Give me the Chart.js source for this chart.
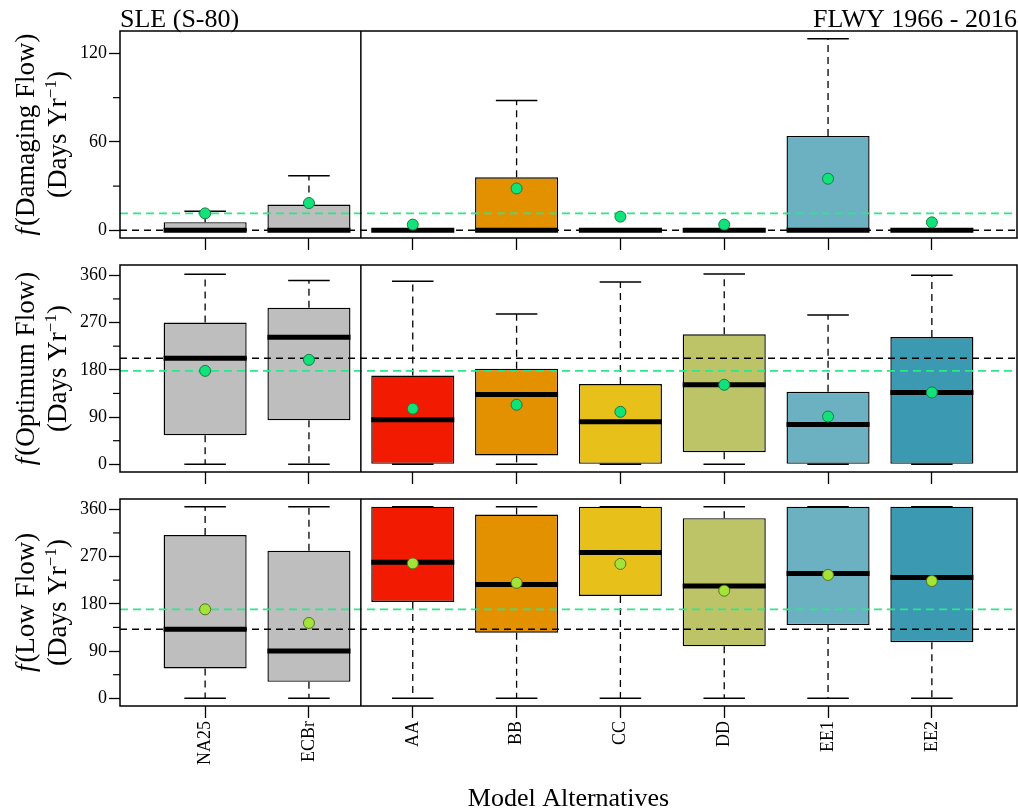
<!DOCTYPE html>
<html lang="en">
<head>
<meta charset="UTF-8">
<script src="https://cdn.jsdelivr.net/npm/chart.js"></script>
<style>
    body { margin: 0; background: #fff; }
    #wrap { position: relative; width: 1018px; height: 810px; }
    #wrap canvas { position: absolute; left: 0; top: 0; }
</style>
<title>SLE (S-80) flow frequency</title>
</head>
<body>
<div id="wrap">
    <canvas id="c1" width="1018" height="810"></canvas>
    <canvas id="c2" width="1018" height="810"></canvas>
    <canvas id="c3" width="1018" height="810"></canvas>
</div>
<script>
const alternatives = ['NA25', 'ECBr', 'AA', 'BB', 'CC', 'DD', 'EE1', 'EE2'];
const boxColors = ['#BEBEBE', '#BEBEBE', '#F21A00', '#E49100', '#E7C019', '#BDC468', '#6CB1C1', '#3B9AB2'];

// damaging flow (days / yr)
const dmgMin  = [0, 0, 0, 0, 0, 0, 0, 0];
const dmgQ1   = [0, 0, 0, 0, 0, 0, 0, 0];
const dmgMed  = [0, 0, 0, 0, 0, 0, 0, 0];
const dmgQ3   = [5.5, 17.5, 0, 36, 0, 0, 64, 0];
const dmgMax  = [13, 37, 0, 88, 0, 0, 130, 0];
const dmgMean = [11.5, 18.5, 3.9, 28.4, 9.3, 3.9, 35, 5.4];

// optimum flow
const optMin  = [0, 0, 0, 0, 0, 0, 0, 0];
const optQ1   = [55.5, 84, 0, 17, 0, 23, 0, 0];
const optMed  = [202, 242, 85, 133, 81, 151.5, 76, 137];
const optQ3   = [270, 298, 169, 182, 153, 247.5, 138, 242.5];
const optMax  = [362, 350, 348.5, 286.5, 347, 362.5, 284.5, 360];
const optMean = [178, 199, 106, 113.5, 100, 151.5, 91, 137];

// low flow
const lowMin  = [0, 0, 0, 0, 0, 0, 0, 0];
const lowQ1   = [57, 31.5, 183.5, 125, 195, 99, 139.5, 107];
const lowMed  = [131.5, 90, 259, 217, 277.5, 214, 237.5, 230];
const lowQ3   = [311, 281, 365, 350, 365, 343, 365, 365];
const lowMax  = [365, 365, 365, 365, 365, 365, 365, 365];
const lowMean = [169.5, 143.5, 257, 220, 256, 205, 235, 223.5];

const dmgTicks = [0, 60, 120];
const dmgMinor = [30, 90];
const flowTicks = [0, 90, 180, 270, 360];
const flowMinor = [45, 135, 225, 315];

const SERIF = 'Liberation Serif';
const X_MIN = -0.82, X_MAX = 7.82;
const PANEL_H = 207;
const XAXIS_H = 80;

let panels = [
    { canvas: 'c1', top: 31, name: 'Damaging Flow', min: dmgMin, q1: dmgQ1, med: dmgMed, q3: dmgQ3, max: dmgMax, mean: dmgMean,
      yMin: -5.2, yMax: 135.2, ticks: dmgTicks, minor: dmgMinor, meanFill: '#12E27A', meanEdge: '#1B7A44', labels: false },
    { canvas: 'c2', top: 265, name: 'Optimum Flow', min: optMin, q1: optQ1, med: optMed, q3: optQ3, max: optMax, mean: optMean,
      yMin: -14.6, yMax: 379.6, ticks: flowTicks, minor: flowMinor, meanFill: '#12E27A', meanEdge: '#1B7A44', labels: false },
    { canvas: 'c3', top: 499, name: 'Low Flow', min: lowMin, q1: lowQ1, med: lowMed, q3: lowQ3, max: lowMax, mean: lowMean,
      yMin: -14.6, yMax: 379.6, ticks: flowTicks, minor: flowMinor, meanFill: '#A4E43A', meanEdge: '#56751C', labels: true }
];

// rotated two line y title, italic f in front
function drawYTitle(ctx, name, cy) {
    ctx.save();
    ctx.fillStyle = '#000';
    ctx.textBaseline = 'alphabetic';
    ctx.textAlign = 'left';

    ctx.translate(34, cy);
    ctx.rotate(-Math.PI / 2);
    ctx.font = 'italic 27px ' + SERIF;
    let fw = ctx.measureText('f').width + 2;
    ctx.font = '27px ' + SERIF;
    let rest = '(' + name + ')';
    let total = fw + ctx.measureText(rest).width;
    ctx.font = 'italic 27px ' + SERIF;
    ctx.fillText('f', -total / 2, 0);
    ctx.font = '27px ' + SERIF;
    ctx.fillText(rest, -total / 2 + fw, 0);
    ctx.restore();

    ctx.save();
    ctx.fillStyle = '#000';
    ctx.translate(66, cy);
    ctx.rotate(-Math.PI / 2);
    ctx.font = '27px ' + SERIF;
    let a = '(Days Yr';
    let aw = ctx.measureText(a).width;
    ctx.font = '17px ' + SERIF;
    let sw = ctx.measureText('\u22121').width;
    ctx.font = '27px ' + SERIF;
    let cw = ctx.measureText(')').width;
    let x0 = -(aw + sw + cw) / 2;
    ctx.fillText(a, x0, 0);
    ctx.font = '17px ' + SERIF;
    ctx.fillText('\u22121', x0 + aw, -10);
    ctx.font = '27px ' + SERIF;
    ctx.fillText(')', x0 + aw + sw, 0);
    ctx.restore();
}

function boxPlugin(p, idx) {
    return {
        id: 'boxparts' + idx,
        // whiskers, staples and medians go right after the boxes
        afterDatasetDraw(chart, args) {
            if (args.index !== 0) return;
            const ctx = chart.ctx, xs = chart.scales.x, ys = chart.scales.y;
            ctx.save();
            ctx.strokeStyle = '#000';
            for (let i = 0; i < alternatives.length; i++) {
                let cx = xs.getPixelForValue(i);
                ctx.lineWidth = 1.3;
                ctx.setLineDash([7, 5]);
                [[p.q3[i], p.max[i]], [p.q1[i], p.min[i]]].forEach(function (w) {
                    if (w[0] === w[1]) return;
                    ctx.beginPath();
                    ctx.moveTo(cx, ys.getPixelForValue(w[0]));
                    ctx.lineTo(cx, ys.getPixelForValue(w[1]));
                    ctx.stroke();
                });
                ctx.setLineDash([]);
                ctx.lineWidth = 1.5;
                [p.max[i], p.min[i]].forEach(function (v) {
                    let y = ys.getPixelForValue(v);
                    ctx.beginPath();
                    ctx.moveTo(xs.getPixelForValue(i - 0.2), y);
                    ctx.lineTo(xs.getPixelForValue(i + 0.2), y);
                    ctx.stroke();
                });
                let ym = ys.getPixelForValue(p.med[i]);
                ctx.lineWidth = 5;
                ctx.beginPath();
                ctx.moveTo(xs.getPixelForValue(i - 0.4), ym);
                ctx.lineTo(xs.getPixelForValue(i + 0.4), ym);
                ctx.stroke();
            }
            ctx.restore();
        },
        afterDraw(chart) {
            const ctx = chart.ctx, xs = chart.scales.x, ys = chart.scales.y;
            const area = chart.chartArea;
            ctx.save();
            ctx.strokeStyle = '#000';
            ctx.lineWidth = 1.5;
            ctx.strokeRect(area.left, area.top, area.right - area.left, area.bottom - area.top);
            // base vs. alternatives separator
            let xd = xs.getPixelForValue(1.5);
            ctx.beginPath();
            ctx.moveTo(xd, area.top);
            ctx.lineTo(xd, area.bottom);
            ctx.stroke();
            // short unlabeled ticks
            ctx.lineWidth = 1.2;
            p.minor.forEach(function (v) {
                let y = ys.getPixelForValue(v);
                ctx.beginPath();
                ctx.moveTo(area.left - 7, y);
                ctx.lineTo(area.left, y);
                ctx.stroke();
            });
            ctx.restore();

            drawYTitle(ctx, p.name, (area.top + area.bottom) / 2);

            ctx.save();
            ctx.fillStyle = '#000';
            ctx.font = '26px ' + SERIF;
            if (idx === 0) {
                ctx.textAlign = 'left';
                ctx.fillText('SLE (S-80)', area.left, 27);
                ctx.textAlign = 'right';
                ctx.fillText('FLWY 1966 - 2016', area.right, 27);
            }
            if (p.labels) {
                ctx.textAlign = 'center';
                ctx.fillText('Model Alternatives', (area.left + area.right) / 2, 806);
            }
            ctx.restore();
        }
    };
}

function noPad(s) {
    s.paddingLeft = 0; s.paddingRight = 0; s.paddingTop = 0; s.paddingBottom = 0;
}

panels.forEach(function (p, idx) {
    let boxes = alternatives.map(function (a, i) { return { x: i, y: [p.q1[i], p.q3[i]] }; });
    let means = alternatives.map(function (a, i) { return { x: i, y: p.mean[i] }; });
    // dashed reference lines at the NA25 median and mean
    let medLine = [{ x: X_MIN, y: p.med[0] }, { x: X_MAX, y: p.med[0] }];
    let meanLine = [{ x: X_MIN, y: p.mean[0] }, { x: X_MAX, y: p.mean[0] }];

    new Chart(document.getElementById(p.canvas), {
        type: 'bar',
        data: {
            datasets: [
                { type: 'bar', data: boxes, backgroundColor: boxColors, borderColor: '#000', borderWidth: 1.4,
                  borderSkipped: false, categoryPercentage: 1, barPercentage: 0.8, order: 3 },
                { type: 'line', data: medLine, borderColor: '#000', borderWidth: 1.5, borderDash: [7, 5],
                  pointRadius: 0, order: 2 },
                { type: 'line', data: meanLine, borderColor: '#2EE68A', borderWidth: 1.8, borderDash: [8, 5],
                  pointRadius: 0, order: 1 },
                { type: 'scatter', data: means, backgroundColor: p.meanFill, borderColor: p.meanEdge, borderWidth: 1,
                  pointRadius: 5.5, order: 0 }
            ]
        },
        options: {
            responsive: false,
            animation: false,
            layout: { autoPadding: false, padding: { left: 0, right: 1, top: p.top, bottom: 810 - p.top - PANEL_H - XAXIS_H } },
            plugins: { legend: { display: false }, tooltip: { enabled: false } },
            scales: {
                x: {
                    type: 'linear', min: X_MIN, max: X_MAX, offset: false,
                    afterBuildTicks: function (s) { s.ticks = alternatives.map(function (a, i) { return { value: i }; }); },
                    afterFit: function (s) { s.height = XAXIS_H; noPad(s); },
                    grid: { drawOnChartArea: false, drawTicks: true, tickLength: 12, tickColor: '#000', tickWidth: 1.3, offset: false },
                    border: { display: false },
                    ticks: {
                        display: p.labels, autoSkip: false, minRotation: 90, maxRotation: 90, padding: 3,
                        color: '#000', font: { family: SERIF, size: 18 },
                        callback: function (v) { return alternatives[v]; }
                    }
                },
                y: {
                    type: 'linear', min: p.yMin, max: p.yMax,
                    afterBuildTicks: function (s) { s.ticks = p.ticks.map(function (v) { return { value: v }; }); },
                    afterFit: function (s) { s.width = 120; noPad(s); },
                    grid: { drawOnChartArea: false, drawTicks: true, tickLength: 11, tickColor: '#000', tickWidth: 1.3 },
                    border: { display: false },
                    ticks: { padding: 2, color: '#000', font: { family: SERIF, size: 18 } }
                }
            }
        },
        plugins: [boxPlugin(p, idx)]
    });
});
</script>
</body>
</html>
